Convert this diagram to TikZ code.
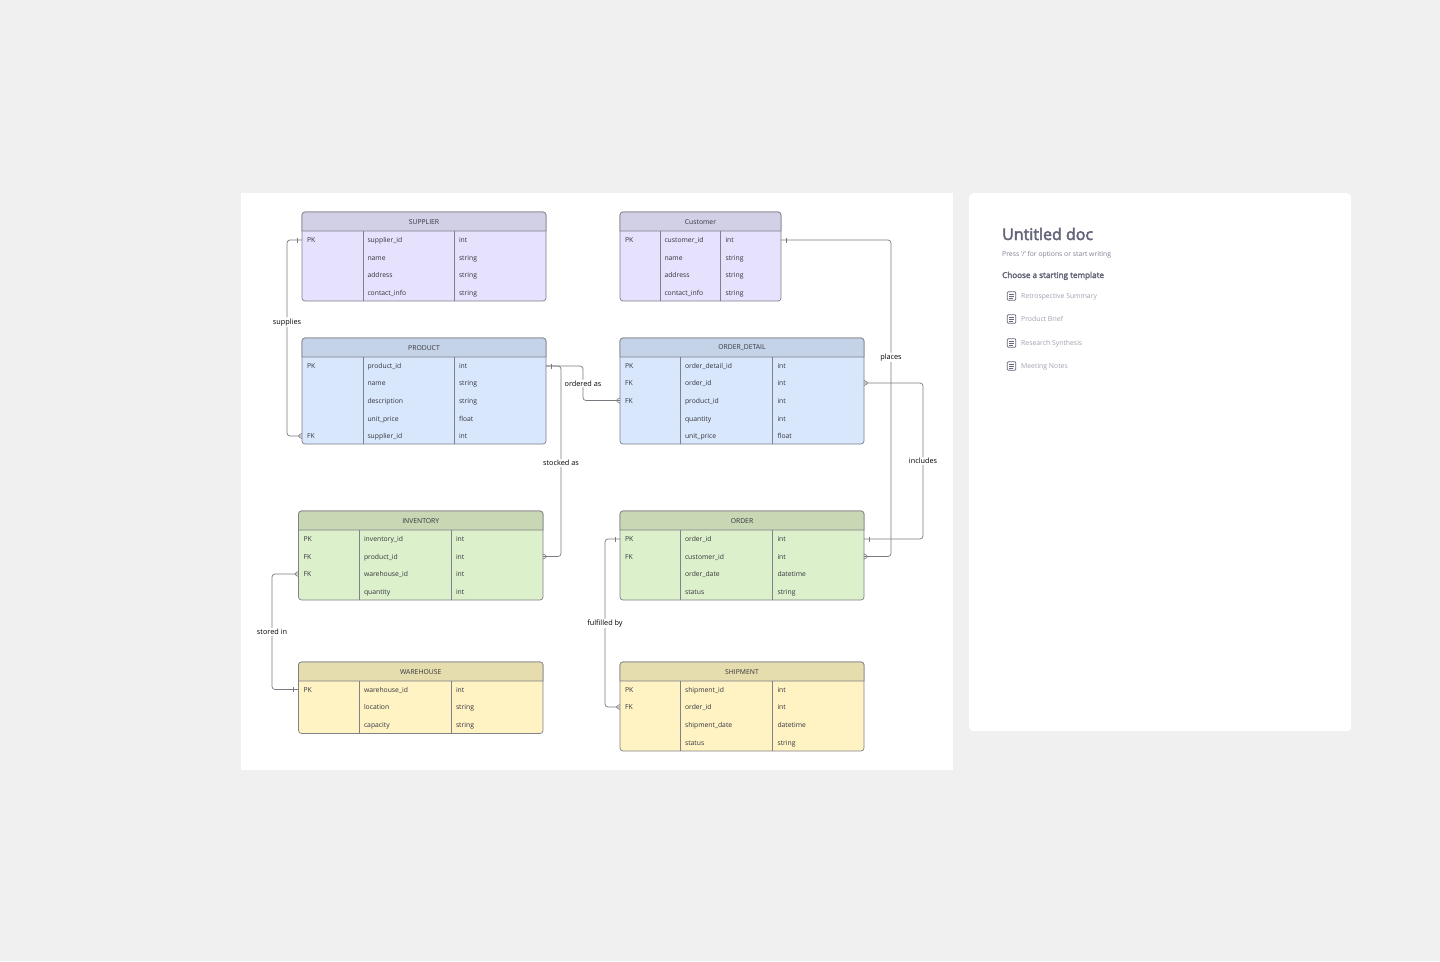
\documentclass[tikz,border=0pt]{standalone}
\usepackage{fontspec}
\setmainfont{Open Sans}
\newfontfamily\semifont[FakeBold=3]{Open Sans}
\usetikzlibrary{decorations.markings}
\definecolor{canvasgray}{HTML}{F0F0F0}
\definecolor{purplehead}{HTML}{D2D0E7}
\definecolor{purplebody}{HTML}{E6E1FC}
\definecolor{bluehead}{HTML}{C5D3E8}
\definecolor{bluebody}{HTML}{D9E7FD}
\definecolor{greenhead}{HTML}{C8D8B4}
\definecolor{greenbody}{HTML}{DDF0CC}
\definecolor{yellowhead}{HTML}{E5DDAE}
\definecolor{yellowbody}{HTML}{FFF3C4}
\definecolor{edgegray}{HTML}{80808A}
\definecolor{linegray}{HTML}{7A7A82}
\definecolor{inkdark}{HTML}{33333C}
\definecolor{docdark}{HTML}{646679}
\definecolor{docmid}{HTML}{7F8194}
\definecolor{doclight}{HTML}{A0A2B0}

\begin{document}
\begin{tikzpicture}[x=1pt,y=-1pt,
  tbl/.style={draw=edgegray,line width=0.7pt},
  cell/.style={anchor=base west,inner sep=0pt,outer sep=0pt,font=\fontsize{6.8}{8}\selectfont,text=inkdark},
  title/.style={inner sep=0pt,font=\fontsize{6.8}{8}\selectfont,text=inkdark},
  rel/.style={draw=linegray,line width=0.7pt,rounded corners=3pt,postaction={decorate,decoration={markings,
    mark=at position 5pt with {\draw[linegray,line width=0.6pt] (0,-2.5) -- (0,2.5);},
    mark=at position -0.1pt with {\draw[linegray,line width=0.6pt] (0,-2.5) -- (-5,0) -- (0,2.5);}}}},
  rellabel/.style={fill=white,inner xsep=0.5pt,inner ysep=1pt,yshift=-0.2pt,font=\fontsize{7.3}{8}\selectfont,text=black},
  doctext/.style={anchor=base west,inner sep=0pt}]
  \useasboundingbox (0,0) rectangle (1440,961);
  \fill[canvasgray] (0,0) rectangle (1440,961);
  \node (board) [fill=white,anchor=north west,inner sep=0pt,minimum width=712pt,minimum height=577pt] at (241,193) {};
  \node (doc) [fill=white,rounded corners=4pt,anchor=north west,inner sep=0pt,minimum width=382pt,minimum height=538pt] at (969,193) {};

  \foreach \ename/\etitle/\xa/\xb/\ca/\cb/\ya/\yb/\pal/\rows in {
    supplier/SUPPLIER/302/546/363/454/212/301/purple/{PK/supplier\_id/int/240, /name/string/257.5, /address/string/275, /contact\_info/string/293},
    customer/Customer/620/781/660/720.5/212/301/purple/{PK/customer\_id/int/240, /name/string/257.5, /address/string/275, /contact\_info/string/293},
    product/PRODUCT/302/546/363/454/338/444/blue/{PK/product\_id/int/366, /name/string/383, /description/string/400.5, /unit\_price/float/418.5, FK/supplier\_id/int/436},
    orderdetail/ORDER\_DETAIL/620/864/680.5/772.5/338/444/blue/{PK/order\_detail\_id/int/366, FK/order\_id/int/383, FK/product\_id/int/400.5, /quantity/int/418.5, /unit\_price/float/436},
    inventory/INVENTORY/298.5/543/359.5/451/511/600/green/{PK/inventory\_id/int/539, FK/product\_id/int/556.5, FK/warehouse\_id/int/574, /quantity/int/591.5},
    order/ORDER/620/864/680.5/772.5/511/600/green/{PK/order\_id/int/539, FK/customer\_id/int/556.5, /order\_date/datetime/574, /status/string/591.5},
    warehouse/WAREHOUSE/298.5/543/359.5/451/662/733.5/yellow/{PK/warehouse\_id/int/689.5, /location/string/707, /capacity/string/725},
    shipment/SHIPMENT/620/864/680.5/772.5/662/751/yellow/{PK/shipment\_id/int/689.5, FK/order\_id/int/707, /shipment\_date/datetime/725, /status/string/742.5}} {
    \node (\ename) [tbl,fill=\pal body,rounded corners=3pt,anchor=north west,inner sep=0pt,outer sep=0pt,
      minimum width=\xb pt-\xa pt,minimum height=\yb pt-\ya pt] at (\xa,\ya) {};
    \draw[tbl,fill=\pal head] (\xa,\ya+19) [rounded corners=3pt] -- (\xa,\ya) -- (\xb,\ya) [sharp corners] -- (\xb,\ya+19) -- cycle;
    \draw[tbl] (\ca,\ya+19) -- (\ca,\yb);
    \draw[tbl] (\cb,\ya+19) -- (\cb,\yb);
    \node (\ename-title) [title] at ({(\xa+\xb)/2},\ya+10) {\etitle};
    \foreach \ekey/\efield/\etype/\ey [count=\i] in \rows {
      \node (\ename-\i) [anchor=west,inner sep=0pt,outer sep=0pt,minimum width=\xb pt-\xa pt,minimum height=17pt] at (\xa,\ey) {};
      \node (\ename-\i-key) [cell] at (\xa+5,\ey+2.5) {\ekey};
      \node (\ename-\i-field) [cell] at (\ca+4.5,\ey+2.5) {\efield};
      \node (\ename-\i-type) [cell] at (\cb+5,\ey+2.5) {\etype};
    }
  }

  \path[rel] (supplier-1.west) -- ++(-15,0) |- node[rellabel,pos=0.209] (supplies) {supplies} (product-5.west);
  \path[rel] (product-1.east) -- ++(37,0) |- node[rellabel,pos=0.25] (orderedas) {ordered as} (orderdetail-3.west);
  \path[rel] (product-1.east) -- ++(15,0) |- node[rellabel,pos=0.2546] (stockedas) {stocked as} (inventory-2.east);
  \path[rel] (customer-1.east) -- ++(110,0) |- node[rellabel,pos=0.185] (places) {places} (order-2.east);
  \path[rel] (order-1.east) -- ++(59,0) |- node[rellabel,pos=0.25] (includes) {includes} (orderdetail-2.east);
  \path[rel] (warehouse-1.west) -- ++(-26.5,0) |- node[rellabel,pos=0.25] (storedin) {stored in} (inventory-3.west);
  \path[rel] (order-1.west) -- ++(-15,0) |- node[rellabel,pos=0.25] (fulfilledby) {fulfilled by} (shipment-2.west);

  \node (doctitle) [doctext,text=docdark,font=\fontsize{16}{18}\semifont] at (1002,240) {Untitled doc};
  \node (dochint) [doctext,text=docmid,font=\fontsize{6.8}{8}\selectfont] at (1002,256) {Press '/' for options or start writing};
  \node (docchoose) [doctext,text=docdark,font=\fontsize{8.1}{9}\semifont] at (1002,278) {Choose a starting template};
  \foreach \tname/\ty [count=\i] in {Retrospective Summary/296, Product Brief/319, Research Synthesis/343, Meeting Notes/366} {
    \node (template-\i) [doctext,text=doclight,font=\fontsize{6.85}{8}\selectfont] at (1021,\ty+2.3) {\tname};
    \node (icon-\i) [draw=docdark,line width=0.7pt,rounded corners=1pt,inner sep=0pt,minimum size=8.5pt] at (1011.5,\ty) {};
    \draw[docdark,line width=0.6pt] (1009,\ty-2) -- (1014,\ty-2) (1009,\ty) -- (1014,\ty) (1009,\ty+2) -- (1012.5,\ty+2);
  }
\end{tikzpicture}
\end{document}
